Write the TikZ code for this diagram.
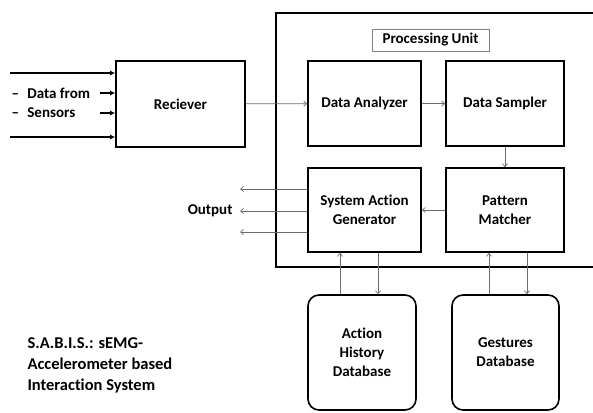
\documentclass[tikz,border=0pt]{standalone}
\usepackage{fontspec}
\setmainfont[Ligatures=NoCommon]{Carlito}
\usetikzlibrary{arrows.meta}
\begin{document}
\begin{tikzpicture}[x=1pt,y=-1pt,>={Straight Barb[length=3pt,width=5pt]},
	font=\bfseries\fontsize{15}{19}\selectfont,
	blk/.style={draw,line width=1.6pt,align=center,inner sep=0pt},
	dbase/.style={blk,rounded corners=11pt},
	flow/.style={->,gray!85!black,line width=.7pt},
	feed/.style={-{Latex[length=5pt,width=5pt]},line width=1.2pt}]
	\clip (0,0) rectangle (593,412);
	\draw[line width=1.6pt] (610,13)--(276,13)--(276,267)--(610,267);
	\node[draw,gray,text=black,minimum width=117pt,minimum height=22pt,inner sep=0pt] (pu) at (430.5,40) {Processing Unit};
	\node[blk,minimum width=129pt,minimum height=86pt] (rcv) at (180.5,104) {Reciever};
	\node[blk,minimum width=113pt,minimum height=85pt] (ana) at (364.5,103.5) {Data Analyzer};
	\node[blk,minimum width=118pt,minimum height=85pt] (smp) at (505,103.5) {Data Sampler};
	\node[blk,minimum width=113pt,minimum height=84pt] (gen) at (364.5,210) {System Action\\Generator};
	\node[blk,minimum width=118pt,minimum height=84pt] (pm) at (505,210) {Pattern\\Matcher};
	\node[dbase,minimum width=108pt,minimum height=115pt] (ahd) at (362,352.5) {Action\\History\\Database};
	\node[dbase,minimum width=107pt,minimum height=115pt] (gdb) at (505.5,352.5) {Gestures\\Database};
	% inputs
	\coordinate (in1) at (10,73);
	\coordinate (in2) at (100,93);
	\coordinate (in3) at (100,113);
	\coordinate (in4) at (10,137);
	\foreach \c in {in1,in2,in3,in4} \draw[feed] (\c)--(\c -| rcv.west);
	\node[align=left,anchor=west] (dat) at (8,103) {--\,\, Data from\\--\,\, Sensors};
	% outputs
	\coordinate (out1) at (240,189);
	\coordinate (out2) at (240,211);
	\coordinate (out3) at (240,232);
	\foreach \c in {out1,out2,out3} \draw[flow] (\c -| gen.west)--(\c);
	\node[anchor=east] (out) at (236,211) {Output};
	% links
	\draw[flow] (rcv)--(ana);
	\draw[flow] (ana)--(smp);
	\draw[flow] (smp)--(pm);
	\draw[flow] (pm)--(gen);
	\draw[flow] ([xshift=-22pt]ahd.north)--([xshift=-22pt]ahd.north |- gen.south);
	\draw[flow] ([xshift=16pt]ahd.north |- gen.south)--([xshift=16pt]ahd.north);
	\draw[flow] ([xshift=-16.5pt]gdb.north)--([xshift=-16.5pt]gdb.north |- pm.south);
	\draw[flow] ([xshift=21.5pt]gdb.north |- pm.south)--([xshift=21.5pt]gdb.north);
	\node[align=left,anchor=north west,font=\bfseries\fontsize{16.5}{21}\selectfont] (ttl) at (24,334) {S.A.B.I.S.: sEMG-\\Accelerometer based\\Interaction System};
\end{tikzpicture}
\end{document}
